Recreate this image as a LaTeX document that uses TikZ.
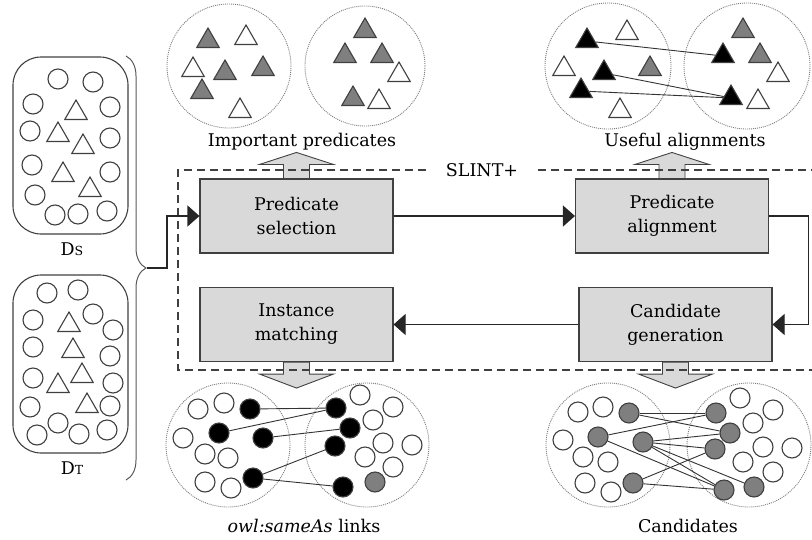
\documentclass[tikz,border=0pt]{standalone}
\usepackage{fontspec}
\setmainfont{DejaVu Serif}
\usetikzlibrary{arrows.meta,shapes.geometric,decorations.pathreplacing}
\definecolor{boxfill}{HTML}{D9D9D9}
\definecolor{edgegray}{HTML}{404040}
\definecolor{midgray}{HTML}{7F7F7F}
\begin{document}
\begin{tikzpicture}[x=1pt,y=-1pt,
  font=\fontsize{17.5}{24}\selectfont,
  stage/.style={draw=edgegray, line width=1.1pt, fill=boxfill, minimum width=193pt,
    minimum height=74pt, align=center, inner sep=0pt},
  conn/.style={draw=black!85, line width=1.1pt, -{Triangle[length=12pt,width=21pt]}},
  frame/.style={draw=edgegray, line width=1.1pt, dash pattern=on 8pt off 5pt},
  blockarrow/.style={draw=edgegray, line width=0.9pt, fill=boxfill},
  pool/.style={draw=gray, line width=0.9pt, dash pattern=on 1pt off 1pt},
  dataset/.style={draw=edgegray, line width=1.1pt, rounded corners=28pt},
  res/.style={circle, draw=edgegray, line width=1.1pt, fill=white, minimum size=20pt, inner sep=0pt},
  resblack/.style={res, fill=black},
  resgray/.style={res, fill=midgray},
  prop/.style={regular polygon, regular polygon sides=3, draw=edgegray, line width=1.1pt,
    fill=white, minimum size=26pt, inner sep=0pt, yshift=-3pt},
  propblack/.style={prop, fill=black},
  propgray/.style={prop, fill=midgray},
  link/.style={draw=black!80, line width=0.9pt},
  uparrow/.pic={\path[blockarrow] (-13,0) -- (-13,-14) -- (-37,-14) -- (0,-26) -- (37,-14)
    -- (13,-14) -- (13,0) -- cycle;},
  downarrow/.pic={\path[blockarrow] (-13,0) -- (-13,12) -- (-37,12) -- (0,26) -- (37,12)
    -- (13,12) -- (13,0) -- cycle;}
]
\useasboundingbox (0,0) rectangle (812,539);

% ---------- source and target datasets ----------
\draw[dataset] (13,57) rectangle (128,234);
\draw[dataset] (13,275) rectangle (128,453);
\foreach \x/\y [count=\i] in {58/79,93/82,33/104,110/107,30/131,110/138,32/165,110/172,35/195,55/215,78/214,107/211}
  \node[res] (ds-c\i) at (\x,\y) {};
\foreach \x/\y [count=\i] in {76/110,58/132,83/144,63/172,90/187}
  \node[prop] (ds-t\i) at (\x,\y) {};
\foreach \x/\y [count=\i] in {47/293,78/290,33/320,93/314,113/330,33/347,110/356,33/378,113/383,30/407,110/406,58/423,37/435,79/434,107/430}
  \node[res] (dt-c\i) at (\x,\y) {};
\foreach \x/\y [count=\i] in {69/322,73/348,82/373,58/383,87/403}
  \node[prop] (dt-t\i) at (\x,\y) {};
\node (dslabel) at (72,249) {D{\fontsize{12.5}{12.5}\selectfont S}};
\node (dtlabel) at (72,468) {D{\fontsize{12.5}{12.5}\selectfont T}};

\draw[decorate, decoration={brace, amplitude=20pt}, draw=black!65, line width=1pt] (126,56) -- (126,480);
\coordinate (bracetip) at (147,268);
\coordinate (bend) at (167,268);

% ---------- SLINT+ stages ----------
\node[stage] (ps) at (296.5,216) {Predicate\\selection};
\node[stage] (pa) at (672,216) {Predicate\\alignment};
\node[stage] (im) at (296.5,324.5) {Instance\\matching};
\node[stage] (cg) at (675.5,324.5) {Candidate\\generation};

\pic at (ps.north) {uparrow};
\pic at (pa.north) {uparrow};
\pic at (im.south) {downarrow};
\pic at (cg.south) {downarrow};

\node[inner xsep=20pt] (slint) at (482,170) {SLINT+};
\draw[frame] (slint.west) -- (178,170) -- (178,370) -- (815,370);
\draw[frame] (slint.east) -- (815,170);

\draw[conn] (bracetip) -- (bend) |- (ps.west);
\draw[conn] (ps.east) -- (pa.west);
\draw[conn] (pa.east) -- ++(39,0) |- (cg.east);
\draw[conn] (cg.west) -- (im.east);

% ---------- important predicates ----------
\draw[pool] (229,66) circle[radius=62];
\draw[pool] (365,66) circle[radius=60];
\foreach \x/\y [count=\i] in {208/38,225/70,263/66,202/89,365/28,345/53,382/53,353/96}
  \node[propgray] (ip-g\i) at (\x,\y) {};
\foreach \x/\y [count=\i] in {246/35,193/67,240/108,399/72,379/99}
  \node[prop] (ip-w\i) at (\x,\y) {};
\node (iplabel) at (302,142) {Important predicates};

% ---------- useful alignments ----------
\draw[pool] (608,66) circle[radius=63];
\draw[pool] (747,66) circle[radius=63];
\foreach \x/\y [count=\i] in {627/30,564/66,620/108,778/72,758/99}
  \node[prop] (ua-w\i) at (\x,\y) {};
\foreach \x/\y [count=\i] in {650/66,743/28,760/53}
  \node[propgray] (ua-g\i) at (\x,\y) {};
\node[propblack] (ua-s1) at (587,38) {};
\node[propblack] (ua-s2) at (604,70) {};
\node[propblack] (ua-s3) at (581,88) {};
\node[propblack] (ua-t1) at (723,53) {};
\node[propblack] (ua-t2) at (731,95) {};
\draw[link] (ua-s1) -- (ua-t1);
\draw[link] (ua-s2) -- (ua-t2);
\draw[link] (ua-s3) -- (ua-t2);
\node (ualabel) at (685,142) {Useful alignments};

% ---------- owl:sameAs links ----------
\draw[pool] (228,445) circle[radius=62];
\draw[pool] (367,445) circle[radius=62];
\foreach \x/\y [count=\i] in {198/409,224/403,183/438,205/454,228/458,205/482,231/488,360/395,393/407,373/420,383/443,412/445,365/457,393/467}
  \node[res] (sa-w\i) at (\x,\y) {};
\node[resgray] (sa-g1) at (375,482) {};
\node[resblack] (sa-a) at (250,409) {};
\node[resblack] (sa-b) at (219,433) {};
\node[resblack] (sa-c) at (263,438) {};
\node[resblack] (sa-d) at (253,478) {};
\node[resblack] (sa-e) at (336,408) {};
\node[resblack] (sa-f) at (350,428) {};
\node[resblack] (sa-g) at (335,446) {};
\node[resblack] (sa-h) at (343,487) {};
\draw[link] (sa-a) -- (sa-e);
\draw[link] (sa-b) -- (sa-e);
\draw[link] (sa-c) -- (sa-f);
\draw[link] (sa-d) -- (sa-g);
\draw[link] (sa-d) -- (sa-h);
\node (salabel) at (304,526) {\textit{owl:sameAs} links};

% ---------- candidates ----------
\draw[pool] (608,445) circle[radius=62];
\draw[pool] (749,445) circle[radius=62];
\foreach \x/\y [count=\i] in {578/412,603/407,563/440,583/457,608/462,585/483,611/492,740/398,773/410,753/423,763/447,792/448,743/462,773/472}
  \node[res] (ca-w\i) at (\x,\y) {};
\node[resgray] (ca-a) at (629,413) {};
\node[resgray] (ca-b) at (598,437) {};
\node[resgray] (ca-c) at (643,442) {};
\node[resgray] (ca-d) at (633,483) {};
\node[resgray] (ca-e) at (716,413) {};
\node[resgray] (ca-f) at (730,433) {};
\node[resgray] (ca-g) at (715,449) {};
\node[resgray] (ca-h) at (724,490) {};
\node[resgray] (ca-i) at (754,487) {};
\foreach \s/\t in {a/e,a/f,b/e,b/h,c/f,c/g,c/h,c/i,d/g,d/h}
  \draw[link] (ca-\s) -- (ca-\t);
\node (calabel) at (688,526) {Candidates};
\end{tikzpicture}
\end{document}
